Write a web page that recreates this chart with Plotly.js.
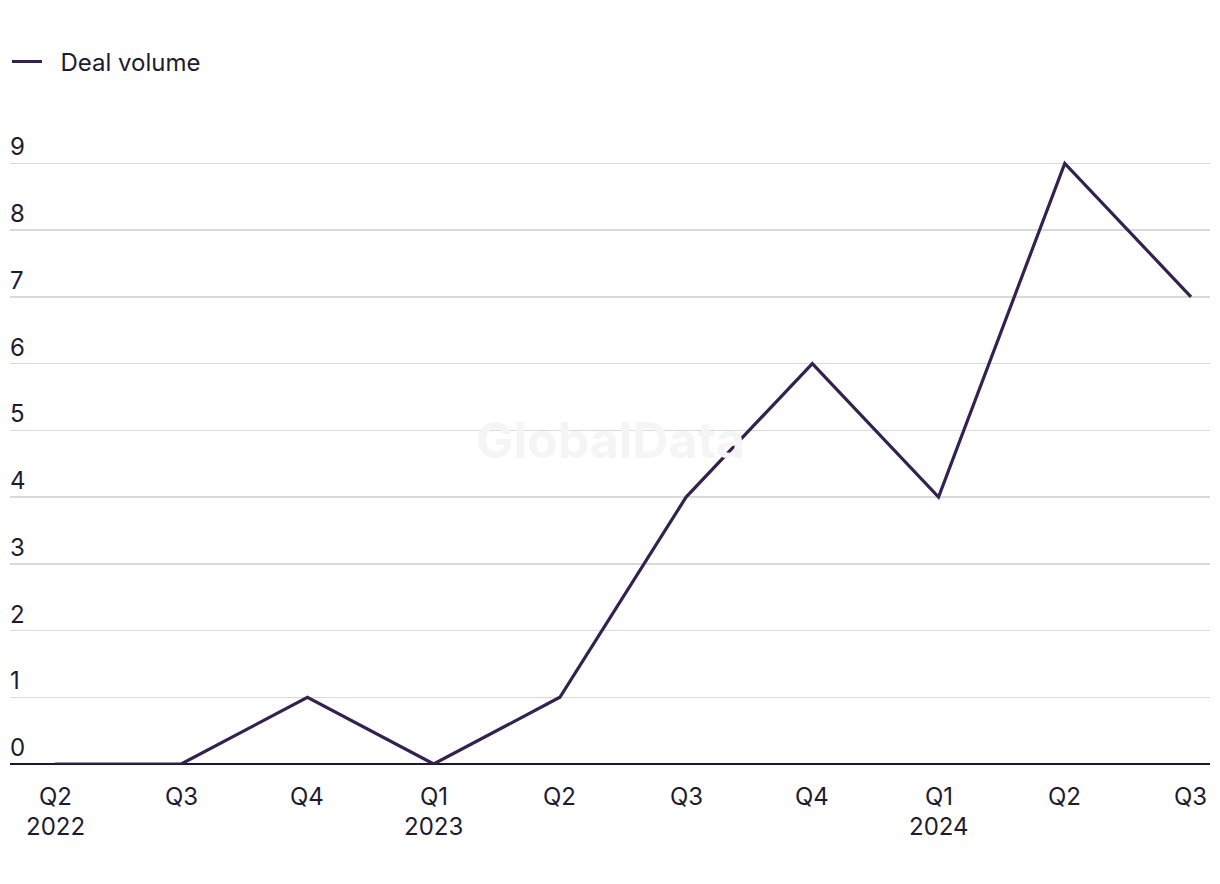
<!DOCTYPE html>
<html>
<head>
<meta charset="utf-8">
<script src="https://cdn.plot.ly/plotly-3.0.1.min.js"></script>
<style>html,body{margin:0;padding:0;background:#fff;}#chart{width:1220px;height:884px;}</style>
</head>
<body>
<div id="chart"></div>
<script>
const quarters = ["Q2 2022","Q3 2022","Q4 2022","Q1 2023","Q2 2023","Q3 2023","Q4 2023","Q1 2024","Q2 2024","Q3 2024"];
const quarterLabels = ["Q2","Q3","Q4","Q1","Q2","Q3","Q4","Q1","Q2","Q3"];
const yearLabels = ["2022","","","2023","","","","2024","",""];
const dealVolume = [0,0,1,0,1,4,6,4,9,7];
const yTicks = [0,1,2,3,4,5,6,7,8,9];

const xIdx = quarters.map((q,i)=>i);
const fontFam = "Inter, 'Liberation Sans', Arial, sans-serif";
const textColor = "#1e1b2e";
const fs = 24;

const trace = {
  x: xIdx, y: dealVolume, type: "scatter", mode: "lines", name: "\u00a0\u00a0Deal volume",
  line: {color: "#35214f", width: 3.2}, hoverinfo: "skip"
};

const annotations = yTicks.map(v => ({
  xref: "paper", yref: "y", x: 0, y: v, text: String(v), showarrow: false,
  xanchor: "left", yanchor: "bottom", yshift: 0, xshift: -2,
  font: {family: fontFam, size: fs, color: textColor}
}));
xIdx.forEach(i => {
  annotations.push({
    xref: "x", yref: "paper", x: i, y: 0, text: quarterLabels[i], showarrow: false,
    xanchor: "center", yanchor: "middle", yshift: -32,
    font: {family: fontFam, size: fs, color: textColor}
  });
  if (yearLabels[i]) annotations.push({
    xref: "x", yref: "paper", x: i, y: 0, text: yearLabels[i], showarrow: false,
    xanchor: "center", yanchor: "middle", yshift: -62,
    font: {family: fontFam, size: fs, color: textColor}
  });
});
annotations.push({
  xref: "paper", yref: "paper", x: 0.5, y: 0.511, text: "<b>GlobalData</b>", showarrow: false,
  font: {family: fontFam, size: 50, color: "#f5f5f5"}
});

const layout = {
  width: 1220, height: 884,
  margin: {l: 10, r: 10, t: 130, b: 120},
  paper_bgcolor: "#ffffff", plot_bgcolor: "#ffffff",
  showlegend: true,
  legend: {xref: "container", yref: "container", x: 0.0057, y: 0.93, xanchor: "left", yanchor: "middle",
           orientation: "h",
           font: {family: fontFam, size: fs, color: textColor}, bgcolor: "rgba(0,0,0,0)"},
  xaxis: {
    range: [-0.3566, 9.1506], tickvals: xIdx, showticklabels: false,
    showgrid: false, zeroline: false, showline: false, ticks: "", fixedrange: true
  },
  yaxis: {
    range: [0, 9.5], tickvals: yTicks, showticklabels: false,
    showgrid: true, gridcolor: "#d9d9d9", gridwidth: 1.5,
    zeroline: true, zerolinecolor: "#1a1a2e", zerolinewidth: 2,
    showline: false, ticks: "", fixedrange: true
  },
  annotations: annotations
};

Plotly.newPlot("chart", [trace], layout, {displayModeBar: false, staticPlot: true});
</script>
</body>
</html>
